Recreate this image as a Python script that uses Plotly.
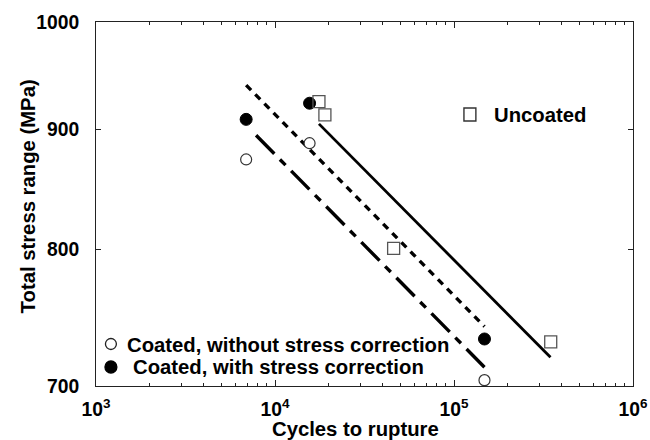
import plotly.graph_objects as go

# ---- data ----
open_x = [6900, 15600, 148000]
open_y = [874, 888, 704]
filled_x = [6900, 15600, 148000]
filled_y = [909, 923.5, 733]
sq_x = [17600, 19000, 46000, 347000]
sq_y = [925, 913, 801, 731]

fit_uncoated_x = [17600, 346000]
fit_uncoated_y = [905, 720]
fit_corr_x = [6900, 148000]
fit_corr_y = [940, 742]
fit_nocorr_x = [7840, 148000]
fit_nocorr_y = [895, 713]

x_tickvals = [1e3, 1e4, 1e5, 1e6]
x_ticktext = ["10<sup>3</sup>", "10<sup>4</sup>", "10<sup>5</sup>", "10<sup>6</sup>"]
y_tickvals = [700, 800, 900, 1000]
y_ticktext = ["700", "800", "900", "1000"]
minor_x = [m * 10 ** e for e in (3, 4, 5) for m in range(2, 10)]

FONT = "Liberation Sans, Arial, sans-serif"

fig = go.Figure()

fig.add_trace(go.Scatter(x=fit_uncoated_x, y=fit_uncoated_y, mode="lines",
                         line=dict(color="black", width=2.8), showlegend=False))
fig.add_trace(go.Scatter(x=fit_corr_x, y=fit_corr_y, mode="lines",
                         line=dict(color="black", width=3.4, dash="7px,6px"), showlegend=False))
fig.add_trace(go.Scatter(x=fit_nocorr_x, y=fit_nocorr_y, mode="lines",
                         line=dict(color="black", width=3.4, dash="26px,8px,8px,8px"), showlegend=False))

fig.add_trace(go.Scatter(x=open_x, y=open_y, mode="markers",
                         marker=dict(symbol="circle", size=11, color="white",
                                     line=dict(color="#333", width=1.2)), showlegend=False))
fig.add_trace(go.Scatter(x=filled_x, y=filled_y, mode="markers",
                         marker=dict(symbol="circle", size=12, color="black",
                                     line=dict(color="black", width=1)), showlegend=False))
fig.add_trace(go.Scatter(x=sq_x, y=sq_y, mode="markers",
                         marker=dict(symbol="square", size=12, color="rgba(255,255,255,0)",
                                     line=dict(color="#555", width=1.3)), showlegend=False))

# page is photographed slightly compressed horizontally; lay out in a 660-wide frame
S = 660 / 650
W, H = 660, 440
L = 95 * S
R = W - 635 * S
T, B = 22, 54
PLOT_L, PLOT_R, PLOT_T, PLOT_B = 95, 635, 22, 386  # picture pixels


def px(xp):
    return (xp - PLOT_L) / (PLOT_R - PLOT_L)


def py(yp):
    return (PLOT_B - yp) / (PLOT_B - PLOT_T)


# legend symbols (paper coordinates, given in picture pixels)
def circle(cx, cy, r, fill, line):
    fig.add_shape(type="circle", xref="paper", yref="paper",
                  x0=px(cx - r), x1=px(cx + r), y0=py(cy + r), y1=py(cy - r),
                  fillcolor=fill, line=dict(color=line, width=1.3))


circle(110, 344, 5.5, "white", "#222")
circle(110, 367, 6, "black", "black")
fig.add_shape(type="rect", xref="paper", yref="paper",
              x0=px(465), x1=px(477), y0=py(121), y1=py(108),
              fillcolor="rgba(0,0,0,0)", line=dict(color="#333", width=1.4))

lf = dict(family=FONT, size=20.3, color="black", weight="bold")
fig.add_annotation(x=px(124), y=py(345), xref="paper", yref="paper", text="Coated, without stress correction",
                   showarrow=False, xanchor="left", yanchor="middle", font=lf)
fig.add_annotation(x=px(130), y=py(367), xref="paper", yref="paper", text="Coated, with stress correction",
                   showarrow=False, xanchor="left", yanchor="middle", font=lf)
fig.add_annotation(x=px(493), y=py(115), xref="paper", yref="paper", text="Uncoated",
                   showarrow=False, xanchor="left", yanchor="middle", font=lf)

# axis titles
fig.add_annotation(x=px(356), y=py(429), xref="paper", yref="paper", text="Cycles to rupture",
                   showarrow=False, xanchor="center", yanchor="middle", font=lf)
fig.add_annotation(x=px(27), y=py(196), xref="paper", yref="paper", text="Total stress range (MPa)",
                   showarrow=False, xanchor="center", yanchor="middle", textangle=-90, font=lf)

tf = dict(family=FONT, size=19.3, color="black", weight="bold")
fig.update_xaxes(type="log", range=[3, 6], tickmode="array", tickvals=x_tickvals, ticktext=x_ticktext,
                 ticks="inside", ticklen=6, tickwidth=1, tickcolor="#222",
                 showline=True, linecolor="#222", linewidth=1, mirror="ticks",
                 showgrid=False, zeroline=False, tickfont=tf, ticklabelstandoff=6,
                 minor=dict(tickmode="array", tickvals=minor_x, ticks="inside", ticklen=3,
                            tickcolor="#222", showgrid=False))
fig.update_yaxes(type="log", range=[2.845098, 3], tickmode="array", tickvals=y_tickvals, ticktext=y_ticktext,
                 ticks="inside", ticklen=5, tickwidth=1, tickcolor="#222",
                 showline=True, linecolor="#222", linewidth=1, mirror="ticks",
                 showgrid=False, zeroline=False, tickfont=tf, ticklabelstandoff=12)

fig.update_layout(width=W, height=H, margin=dict(l=L, r=R, t=T, b=B),
                  paper_bgcolor="white", plot_bgcolor="white", showlegend=False)

# remove the default page margin so the figure sits at the window's top-left corner
fig.write_html("out.html", config={"displayModeBar": False},
               post_script="document.body.style.margin='0';")
